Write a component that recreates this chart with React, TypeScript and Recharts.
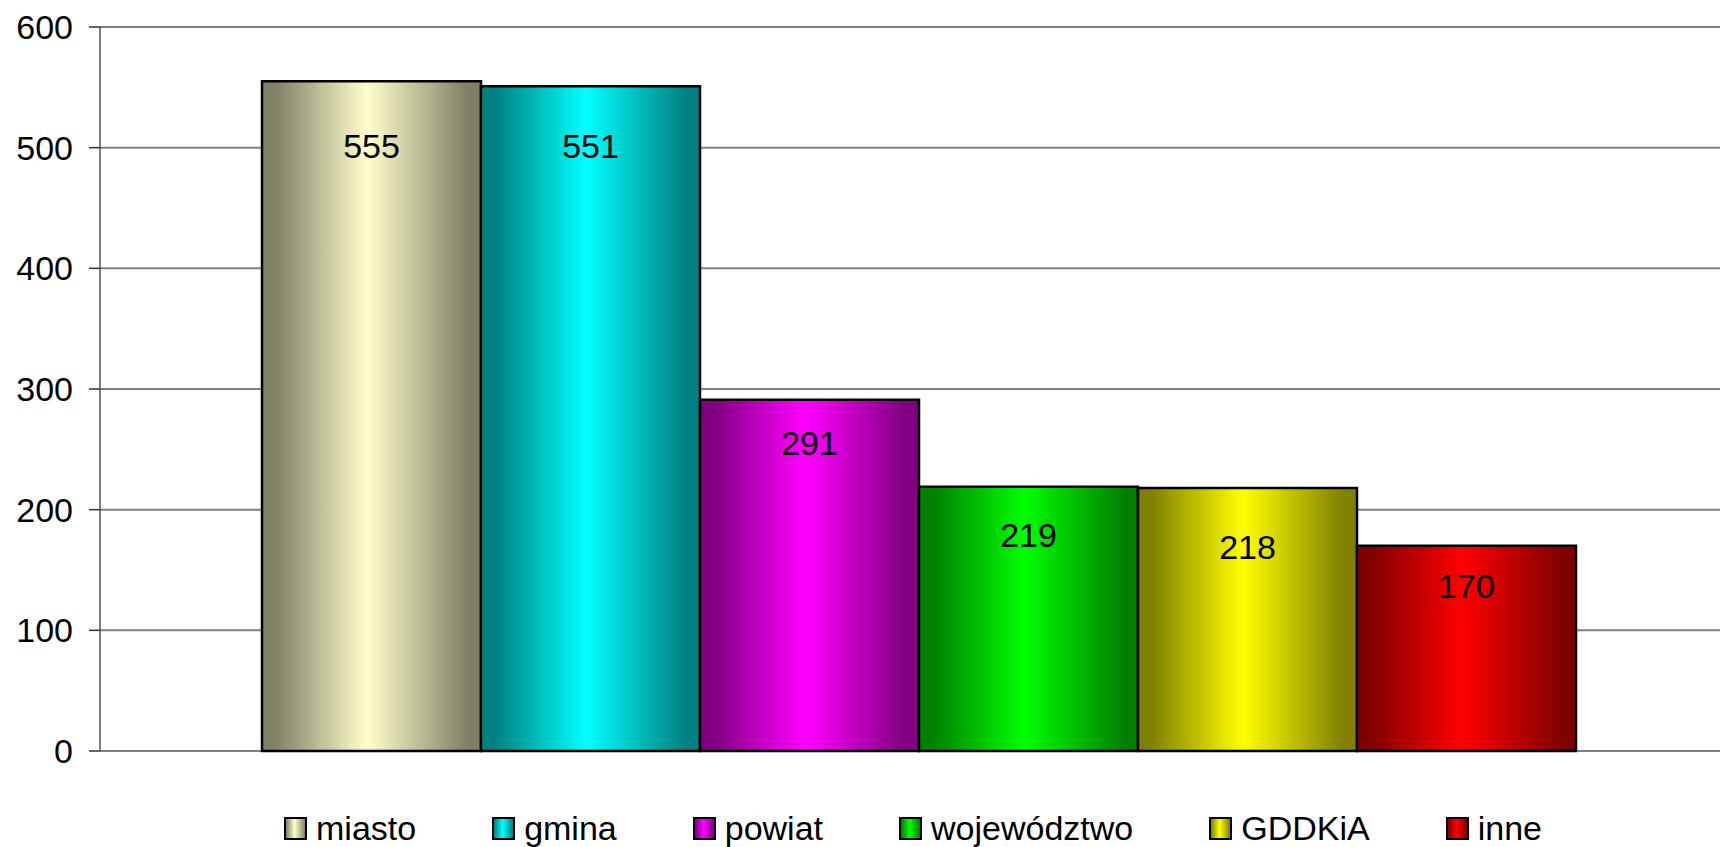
import { Bar, BarChart, CartesianGrid, LabelList, Legend, XAxis, YAxis } from 'recharts';

const seriesNames = ['miasto', 'gmina', 'powiat', 'województwo', 'GDDKiA', 'inne'];
const seriesValues = [555, 551, 291, 219, 218, 170];
const yTicks = [0, 100, 200, 300, 400, 500, 600];

// light centre / dark edge for each series
const lightColors = ['#ffffcc', '#00ffff', '#ff00ff', '#00ff00', '#ffff00', '#ff0000'];
const darkColors = ['#808066', '#008080', '#800080', '#008000', '#808000', '#800000'];
// how far below the bar top each value label sits (px), as placed in the original
const labelDrop = [65, 60, 43, 48, 59, 40];

const row: Record<string, string | number> = { name: '' };
seriesNames.forEach((n, i) => {
  row[n] = seriesValues[i];
});
const chartData = [row];

const FONT = '"Liberation Sans", Arial, sans-serif';
const FS = 34;

const makeValueLabel = (drop: number) => (props: any) => {
  const { x, y, width, value } = props;
  return (
    <text
      x={Number(x) + Number(width) / 2}
      y={Number(y) + drop}
      textAnchor="middle"
      dominantBaseline="central"
      fontSize={FS}
      fontFamily={FONT}
      fill="#000"
    >
      {value}
    </text>
  );
};

const LegendBox = () => (
  <div
    style={{
      display: 'flex',
      alignItems: 'center',
      height: 40,
      paddingLeft: 284,
      gap: 76,
      fontFamily: FONT,
      fontSize: FS,
      color: '#000',
    }}
  >
    {seriesNames.map((n, i) => (
      <div key={n} style={{ display: 'flex', alignItems: 'center', gap: 9 }}>
        <span
          style={{
            display: 'inline-block',
            width: 19,
            height: 19,
            border: '2px solid #000',
            background: `linear-gradient(to right, ${darkColors[i]}, ${lightColors[i]} 45%, ${darkColors[i]})`,
          }}
        />
        <span style={{ lineHeight: '40px' }}>{n}</span>
      </div>
    ))}
  </div>
);

export default function App() {
  return (
    <div style={{ position: 'absolute', left: 0, top: 0, background: '#fff' }}>
      <BarChart
        width={1720}
        height={847}
        data={chartData}
        barSize={219}
        barGap={0}
        margin={{ top: 27, right: 0, bottom: 56, left: 0 }}
      >
        <defs>
          {seriesNames.map((n, i) => (
            <linearGradient key={n} id={`grad${i}`} x1="0" y1="0" x2="1" y2="0">
              <stop offset="0%" stopColor={darkColors[i]} />
              <stop offset="6%" stopColor={darkColors[i]} />
              <stop offset="48%" stopColor={lightColors[i]} />
              <stop offset="94%" stopColor={darkColors[i]} />
              <stop offset="100%" stopColor={darkColors[i]} />
            </linearGradient>
          ))}
        </defs>
        <CartesianGrid vertical={false} stroke="#808080" strokeWidth={2} />
        <XAxis dataKey="name" hide padding={{ left: 18, right: 0 }} />
        <YAxis
          width={100}
          domain={[0, 600]}
          ticks={yTicks}
          interval={0}
          tickSize={11}
          tickMargin={16}
          axisLine={{ stroke: '#555', strokeWidth: 1.5 }}
          tickLine={{ stroke: '#333', strokeWidth: 1.5 }}
          tick={{ fontSize: FS, fontFamily: FONT, fill: '#000' }}
        />
        <Legend
          verticalAlign="bottom"
          content={() => <LegendBox />}
          wrapperStyle={{ top: 808, bottom: 'auto', left: 0, width: 1720 }}
        />
        {seriesNames.map((n, i) => (
          <Bar
            key={n}
            dataKey={n}
            fill={`url(#grad${i})`}
            stroke="#000"
            strokeWidth={2.5}
            isAnimationActive={false}
          >
            <LabelList dataKey={n} content={makeValueLabel(labelDrop[i])} />
          </Bar>
        ))}
      </BarChart>
    </div>
  );
}
